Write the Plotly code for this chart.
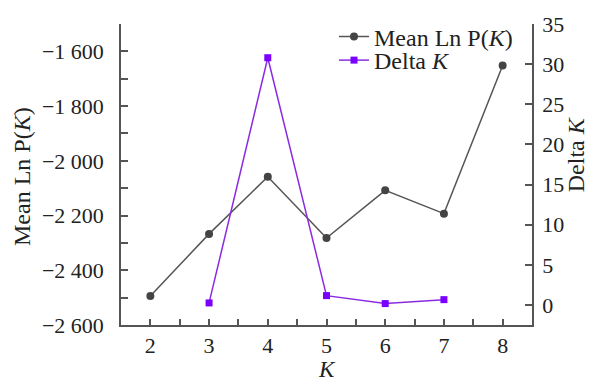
import plotly.graph_objects as go

k_values = [2, 3, 4, 5, 6, 7, 8]
mean_lnp = [-2494, -2267, -2058, -2282, -2108, -2193, -1652]
k_delta = [3, 4, 5, 6, 7]
delta_k = [0.25, 30.8, 1.16, 0.17, 0.66]

FONT = "Liberation Serif"
AX = "#555555"
TXT = "#222222"

W, H = 591, 381
L, R, T, B = 121, 59, 20, 56
pw, ph = W - L - R, H - T - B


def px_x(x):
    return (x - L) / pw


def px_y(y):
    return (H - B - y) / ph


fig = go.Figure()
fig.add_trace(go.Scatter(
    x=k_values, y=mean_lnp, mode="lines+markers", name="Mean Ln P(<i>K</i>)",
    line=dict(color="#555555", width=1.5),
    marker=dict(symbol="circle", size=8, color="#444444"),
    yaxis="y", legend="legend"))
fig.add_trace(go.Scatter(
    x=k_delta, y=delta_k, mode="lines+markers", name="Delta <i>K</i>",
    line=dict(color="#8a2be2", width=1.5),
    marker=dict(symbol="square", size=7, color="#7a00ff"),
    yaxis="y2", legend="legend2"))

tickfont = dict(family=FONT, size=22, color=TXT)
titlefont = dict(family=FONT, size=24, color=TXT)
legfont = dict(family=FONT, size=24, color=TXT)
fig.update_layout(
    width=W, height=H,
    margin=dict(l=L, r=R, t=T, b=B),
    paper_bgcolor="white", plot_bgcolor="white",
    separators=". ",
    showlegend=True,
    legend=dict(x=px_x(334), y=px_y(33), xanchor="left", yanchor="middle",
                bgcolor="rgba(0,0,0,0)", font=legfont, itemwidth=30),
    legend2=dict(x=px_x(334), y=px_y(57), xanchor="left", yanchor="middle",
                 bgcolor="rgba(0,0,0,0)", font=legfont, itemwidth=30),
    xaxis=dict(range=[1.5, 8.5], tickmode="linear", tick0=2, dtick=1,
               showline=True, linecolor=AX, linewidth=1.5, mirror=False,
               ticks="inside", ticklen=6, tickcolor=AX, tickwidth=1.5,
               minor=dict(dtick=0.5, tick0=2, ticks="inside", ticklen=6, tickcolor=AX, tickwidth=1.5),
               showgrid=False, zeroline=False, tickfont=tickfont, ticklabelstandoff=0),
    yaxis=dict(range=[-2600, -1500], tickmode="linear", tick0=-2600, dtick=200,
               separatethousands=True,
               showline=True, linecolor=AX, linewidth=1.5,
               ticks="inside", ticklen=7, tickcolor=AX, tickwidth=1.5,
               minor=dict(dtick=100, tick0=-2600, ticks="inside", ticklen=7, tickcolor=AX, tickwidth=1.5),
               showgrid=False, zeroline=False, tickfont=tickfont, ticklabelstandoff=11),
    yaxis2=dict(range=[-2.5, 35], tickmode="linear", tick0=0, dtick=5,
                overlaying="y", side="right",
                showline=True, linecolor=AX, linewidth=1.5,
                ticks="inside", ticklen=7, tickcolor=AX, tickwidth=1.5,
                showgrid=False, zeroline=False, tickfont=tickfont, ticklabelstandoff=4),
    annotations=[
        dict(text="<i>K</i>", x=0.5, y=px_y(370), xref="paper", yref="paper", showarrow=False,
             xanchor="center", yanchor="middle", font=dict(family=FONT, size=23, color=TXT)),
        dict(text="Mean Ln P(<i>K</i>)", x=px_x(22), y=px_y(175), xref="paper", yref="paper",
             xanchor="center", yanchor="middle",
             textangle=-90, showarrow=False, font=titlefont),
        dict(text="Delta <i>K</i>", x=px_x(576), y=px_y(152), xref="paper", yref="paper",
             xanchor="center", yanchor="middle",
             textangle=-90, showarrow=False, font=titlefont),
    ],
)

fig.write_html("out.html", config={"displayModeBar": False},
               post_script="document.body.style.margin='0px';")
